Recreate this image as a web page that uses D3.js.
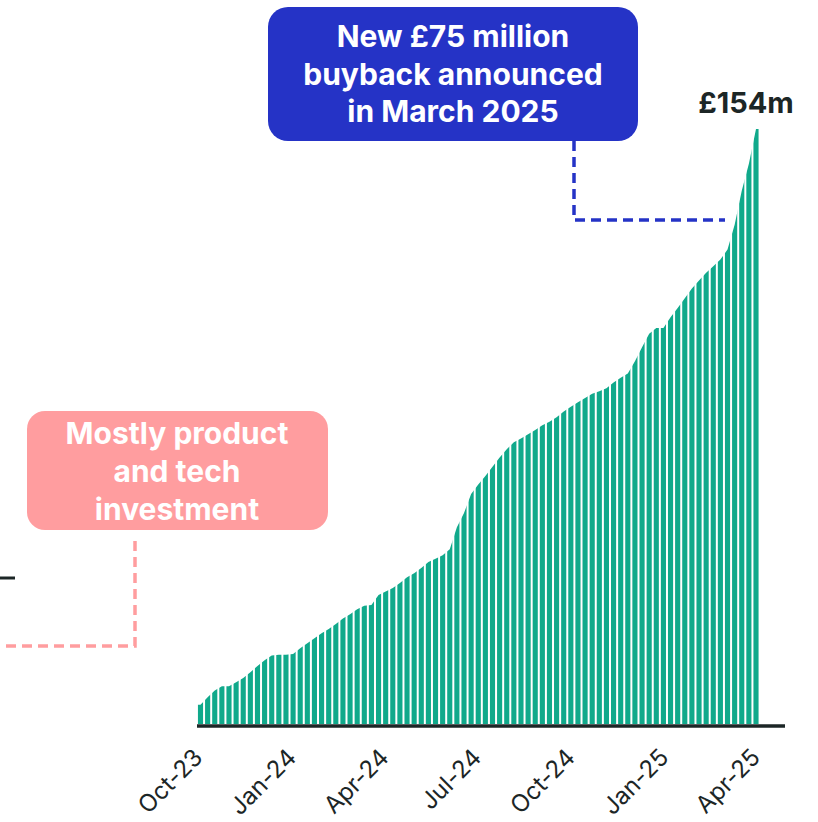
<!DOCTYPE html>
<html>
<head>
<meta charset="utf-8">
<script src="https://cdn.jsdelivr.net/npm/d3@7"></script>
<style>
  body { margin: 0; background: #fff; }
  svg { display: block; font-family: "Inter", "Lato", sans-serif; }
</style>
</head>
<body>
<div id="chart"></div>
<script>
// weekly cumulative buyback (GBP m), Fridays 29 Sep 2023 - 28 Mar 2025
var firstWeek = new Date(2023, 8, 29);
var lastWeek  = new Date(2025, 2, 29);
var cumulative = [
  5.0, 6.9, 8.7, 9.8, 9.8, 10.8, 11.9, 13.4, 15.0, 16.5,
  17.7, 17.9, 17.9, 18.1, 19.6, 20.9, 22.2, 23.5, 24.6, 25.9,
  27.3, 28.4, 29.7, 30.6, 30.8, 33.4, 34.3, 35.2, 36.5, 38.0,
  39.0, 40.4, 41.9, 42.8, 43.7, 45.2, 50.9, 54.6, 59.5, 62.0,
  64.2, 66.6, 69.0, 71.1, 72.9, 73.9, 75.0, 76.1, 77.3, 78.2,
  79.4, 80.9, 82.1, 83.3, 84.4, 85.5, 86.1, 86.9, 88.4, 89.6,
  90.7, 93.9, 97.5, 101.0, 102.5, 102.5, 105.3, 107.7, 110.2, 112.7,
  114.8, 116.8, 118.5, 120.2, 122.8, 129.2, 138.0, 145.0, 154.0
];
var tickDates = [
  new Date(2023, 9, 1), new Date(2024, 0, 1), new Date(2024, 3, 1),
  new Date(2024, 6, 1), new Date(2024, 9, 1), new Date(2025, 0, 1),
  new Date(2025, 3, 1)
];
var endLabel = "£154m";
var buybackNote = ["New £75 million", "buyback announced", "in March 2025"];
var investNote = ["Mostly product", "and tech", "investment"];

var weeks = d3.timeFriday.range(firstWeek, lastWeek);
var data = weeks.map(function(d, i) { return { date: d, value: cumulative[i] }; });

var width = 818, height = 822;
var green = "#10a98b", blue = "#2533c6", pink = "#ff9d9f", ink = "#1c2626";

var svg = d3.select("#chart").append("svg")
  .attr("width", width)
  .attr("height", height);

var x = d3.scaleTime()
  .domain([weeks[0], weeks[weeks.length - 1]])
  .range([200.5, 756]);

var y = d3.scaleLinear()
  .domain([0, 154])
  .range([724, 129]);

var step = x(weeks[1]) - x(weeks[0]);
var barW = step - 2;

// outline of the cumulative curve, used to clip the bars so their tops follow it
var first = data[0], last = data[data.length - 1];
var curve = d3.line()
  .x(function(d) { return x(d.date); })
  .y(function(d) { return y(d.value); })(data);

svg.append("defs").append("clipPath")
  .attr("id", "curve")
  .append("path")
  .attr("d", "M" + (x(first.date) - step / 2) + "," + y(0) +
    "L" + (x(first.date) - step / 2) + "," + y(first.value) +
    curve.replace(/^M/, "L") +
    "L" + (x(last.date) + step / 2) + "," + y(last.value) +
    "L" + (x(last.date) + step / 2) + "," + y(0) + "Z");

svg.append("g")
  .attr("clip-path", "url(#curve)")
  .selectAll("rect")
  .data(data)
  .enter().append("rect")
  .attr("x", function(d) { return x(d.date) - barW / 2; })
  .attr("y", y(160))
  .attr("width", barW)
  .attr("height", y(0) - y(160))
  .attr("fill", green);

// baseline
svg.append("line")
  .attr("x1", 197).attr("x2", 785)
  .attr("y1", 726).attr("y2", 726)
  .attr("stroke", ink)
  .attr("stroke-width", 3.5);

// x axis labels
var xAxis = d3.axisBottom(x)
  .tickValues(tickDates)
  .tickFormat(d3.timeFormat("%b-%y"))
  .tickSize(0);

var gx = svg.append("g")
  .attr("transform", "translate(0,740)")
  .call(xAxis);
gx.select(".domain").remove();
gx.selectAll("text")
  .attr("fill", ink)
  .attr("y", 0)
  .attr("dy", 0)
  .style("font-size", "24px")
  .style("font-family", "Inter, sans-serif")
  .attr("text-anchor", "end")
  .attr("transform", "translate(1,19) rotate(-45)");

// end value label
svg.append("text")
  .attr("x", 746).attr("y", 113)
  .attr("text-anchor", "middle")
  .attr("fill", ink)
  .style("font-size", "29px")
  .style("font-weight", 700)
  .text(endLabel);

// buyback callout
svg.append("path")
  .attr("d", "M574,141V220H725")
  .attr("fill", "none")
  .attr("stroke", blue)
  .attr("stroke-width", 3.5)
  .attr("stroke-dasharray", "10,6");

svg.append("rect")
  .attr("x", 268).attr("y", 7)
  .attr("width", 370).attr("height", 134)
  .attr("rx", 20)
  .attr("fill", blue);

svg.append("text")
  .attr("text-anchor", "middle")
  .attr("fill", "#fff")
  .style("font-size", "30px")
  .style("font-weight", 700)
  .selectAll("tspan")
  .data(buybackNote)
  .enter().append("tspan")
  .attr("x", 453)
  .attr("y", function(d, i) { return 47 + i * 37.5; })
  .text(function(d) { return d; });

// investment callout
svg.append("path")
  .attr("d", "M135,541V646H0")
  .attr("fill", "none")
  .attr("stroke", pink)
  .attr("stroke-width", 3.5)
  .attr("stroke-dasharray", "10,6");

svg.append("line")
  .attr("x1", 0).attr("x2", 15)
  .attr("y1", 578).attr("y2", 578)
  .attr("stroke", ink)
  .attr("stroke-width", 3);

svg.append("rect")
  .attr("x", 27).attr("y", 411)
  .attr("width", 301).attr("height", 119)
  .attr("rx", 18)
  .attr("fill", pink);

svg.append("text")
  .attr("text-anchor", "middle")
  .attr("fill", "#fff")
  .style("font-size", "30px")
  .style("font-weight", 700)
  .selectAll("tspan")
  .data(investNote)
  .enter().append("tspan")
  .attr("x", 177)
  .attr("y", function(d, i) { return 444 + i * 38; })
  .text(function(d) { return d; });
</script>
</body>
</html>
